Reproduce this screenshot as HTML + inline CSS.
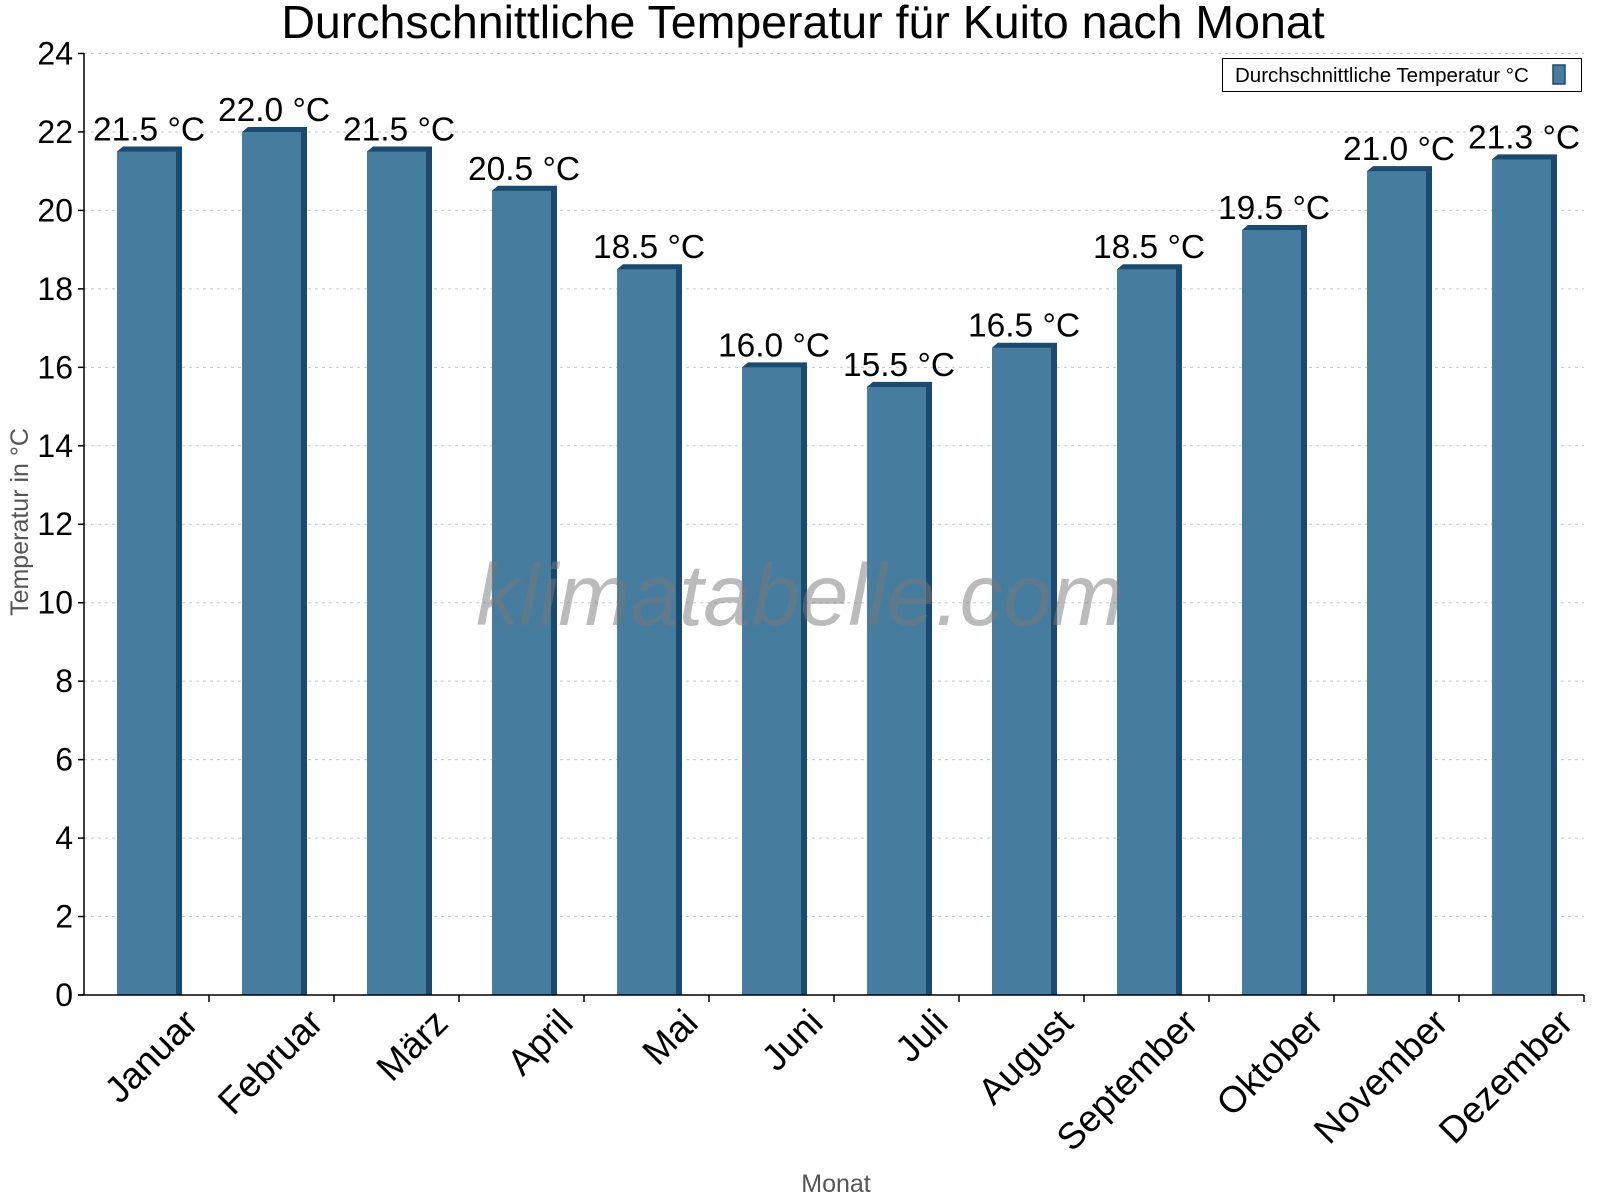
<!DOCTYPE html>
<html><head><meta charset="utf-8"><style>body{margin:0;background:#fff}svg{display:block}text{font-family:"Liberation Sans",sans-serif}</style></head>
<body>
<svg width="1600" height="1200" viewBox="0 0 1600 1200" xmlns="http://www.w3.org/2000/svg">
<text x="803" y="38" font-size="46.5" text-anchor="middle">Durchschnittliche Temperatur für Kuito nach Monat</text>
<g id="grid" stroke="#c8c8c8" stroke-dasharray="3,4" stroke-width="1"></g>
<g id="bars"></g>
<line x1="84" y1="53" x2="84" y2="995" stroke="#000" stroke-width="1.5"/>
<line x1="78" y1="995" x2="1584" y2="995" stroke="#000" stroke-width="1.5"/>
<g id="yt" font-size="32" text-anchor="end"></g>
<g id="xt" font-size="37" text-anchor="end"></g>
<g id="lab" font-size="33.5" text-anchor="middle"></g>
<text x="28" y="522" font-size="25" fill="#555" text-anchor="middle" transform="rotate(-90 28 522)">Temperatur in °C</text>
<text x="836" y="1192" font-size="25" fill="#555" text-anchor="middle">Monat</text>
<text x="800" y="625" font-size="87" font-style="italic" fill="#777" fill-opacity="0.5" text-anchor="middle">klimatabelle.com</text>
<rect x="1222.5" y="58.5" width="359" height="33" fill="#fff" stroke="#000"/>
<text x="1235" y="82" font-size="20.5">Durchschnittliche Temperatur °C</text>
<rect x="1553" y="65" width="12" height="19" fill="#467c9e" stroke="#1a4a6e" stroke-width="1.5"/>
</svg>
<script>
const v=[21.5,22.0,21.5,20.5,18.5,16.0,15.5,16.5,18.5,19.5,21.0,21.3];
const m=["Januar","Februar","März","April","Mai","Juni","Juli","August","September","Oktober","November","Dezember"];
const ns="http://www.w3.org/2000/svg";
const Y=t=>995-t*39.23;
function el(p,n,a,txt){const e=document.createElementNS(ns,n);for(const k in a)e.setAttribute(k,a[k]);if(txt!=null)e.textContent=txt;document.getElementById(p).appendChild(e);}
for(let t=0;t<=24;t+=2){const y=Y(t);if(t>0)el("grid","line",{x1:84,x2:1584,y1:y,y2:y});
el("yt","line",{x1:78,x2:84,y1:y,y2:y,stroke:"#000","stroke-width":1.5});
el("yt","text",{x:73,y:y+11},t);}
for(let i=0;i<12;i++){const s=84+i*125,x=s+33,w=59,d=6,y=Y(v[i]);
el("bars","polygon",{points:`${x},${y} ${x+d},${y-5} ${x+w+d},${y-5} ${x+w+d},995 ${x+w},995`,fill:"#1a4a6e"});
el("bars","rect",{x:x,y:y,width:w,height:995-y,fill:"#467c9e"});
el("yt","line",{x1:s+125,x2:s+125,y1:995,y2:1002,stroke:"#000","stroke-width":1.5});
el("lab","text",{x:x+32,y:y-11},v[i].toFixed(1)+" °C");
const ax=s+116,ay=1025;
el("xt","text",{x:ax,y:ay,transform:`rotate(-45 ${ax} ${ay})`},m[i]);}
</script>
</body></html>
